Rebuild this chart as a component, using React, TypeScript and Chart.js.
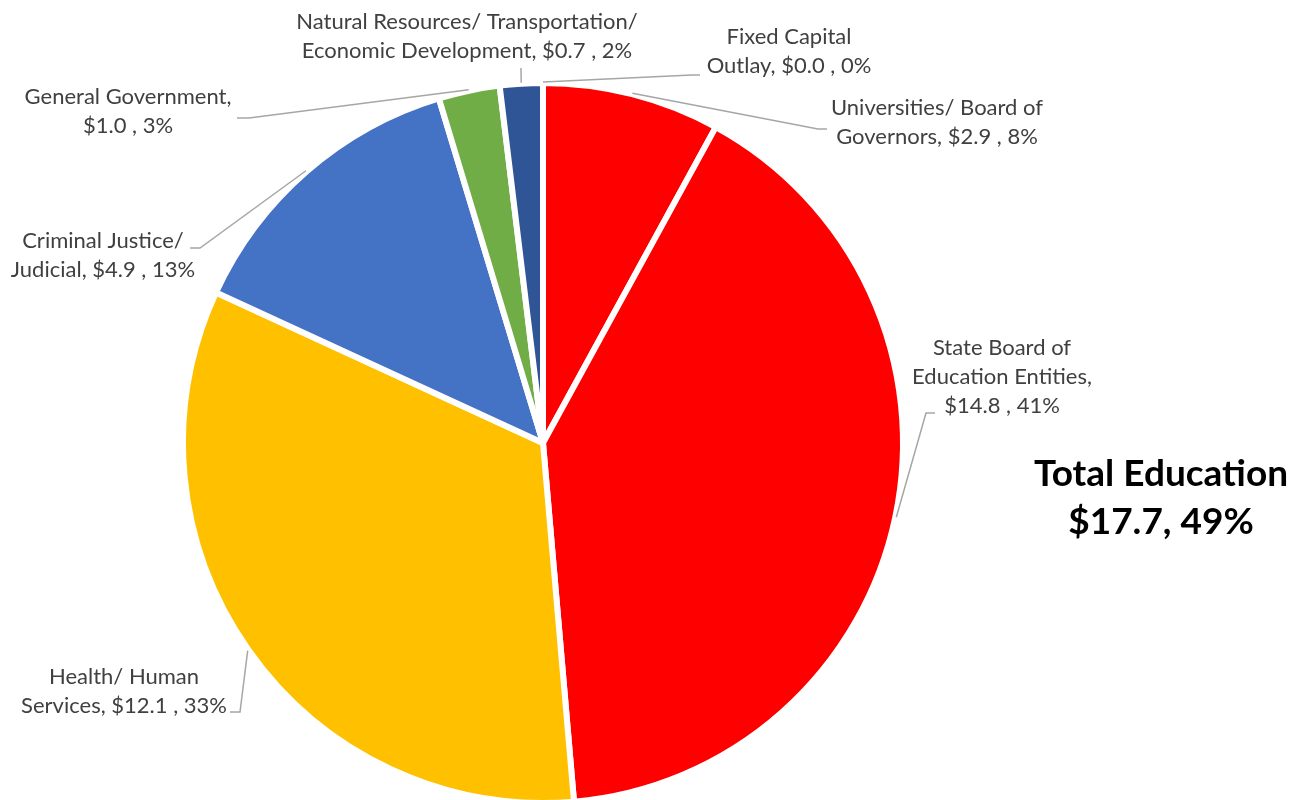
import React, { useEffect, useRef } from "react";
import { Chart, registerables } from "chart.js";

Chart.register(...registerables);

// ---- data ----
const categories = [
  "Fixed Capital\nOutlay",
  "Universities/ Board of\nGovernors",
  "State Board of\nEducation Entities",
  "Health/ Human\nServices",
  "Criminal Justice/\nJudicial",
  "General Government",
  "Natural Resources/ Transportation/\nEconomic Development",
];
const values = [0.0, 2.9, 14.8, 12.1, 4.9, 1.0, 0.7];
const valueOnNewLine = [false, false, true, false, false, true, false];
const educationIdx = [1, 2];
const totalTitle = "Total Education";

// ---- styles / layout ----
const colors = ["#7F7F7F", "#FF0000", "#FF0000", "#FFC000", "#4472C4", "#70AD47", "#2F5597"];
// label centre x, centre y of first line, leader path points (after the arc point)
const labelLayout = [
  { cx: 789, y: 37, path: [[692, 75], [700, 75]] },
  { cx: 937, y: 108, path: [[818, 129], [827, 129]] },
  { cx: 1002, y: 348, path: [[926, 413], [935, 413]] },
  { cx: 124, y: 677, path: [[240, 712], [230, 712]] },
  { cx: 103, y: 241, path: [[200, 248], [190, 248]] },
  { cx: 128, y: 97, path: [[249, 118], [237, 118]] },
  { cx: 467, y: 22, path: [[521, 68]] },
];
const FONT = "Lato, 'Noto Sans', sans-serif";
const CANVAS_H = 812;

const total = values.reduce((a, b) => a + b, 0);
const pct = (v: number) => Math.round((v / total) * 100);
const labelText = (i: number) =>
  `${categories[i]},${valueOnNewLine[i] ? "\n" : " "}$${values[i].toFixed(1)} , ${pct(values[i])}%`;

const labelPlugin = {
  id: "sliceLabels",
  afterDatasetsDraw(chart: any) {
    const ctx = chart.ctx as CanvasRenderingContext2D;
    const meta = chart.getDatasetMeta(0);
    ctx.save();
    meta.data.forEach((arc: any, i: number) => {
      const p = arc.getProps(["x", "y", "startAngle", "endAngle", "outerRadius"], true);
      const mid = (p.startAngle + p.endAngle) / 2;
      const r = p.outerRadius + 1;
      const sx = p.x + Math.cos(mid) * r;
      const sy = p.y + Math.sin(mid) * r;
      const L = labelLayout[i];
      ctx.strokeStyle = "#A6A6A6";
      ctx.lineWidth = 1.5;
      ctx.beginPath();
      ctx.moveTo(sx, sy);
      L.path.forEach((q) => ctx.lineTo(q[0], q[1]));
      ctx.stroke();
      ctx.fillStyle = "#404040";
      ctx.font = `22px ${FONT}`;
      ctx.textAlign = "center";
      ctx.textBaseline = "middle";
      labelText(i)
        .split("\n")
        .forEach((line, k) => ctx.fillText(line, L.cx, L.y + k * 29));
    });
    // Total Education annotation
    const eduTotal = educationIdx.reduce((a, i) => a + values[i], 0);
    ctx.fillStyle = "#000000";
    ctx.font = `bold 37px ${FONT}`;
    ctx.textAlign = "center";
    ctx.textBaseline = "middle";
    ctx.fillText(totalTitle, 1161, 474);
    ctx.fillText(`$${eduTotal.toFixed(1)}, ${pct(eduTotal)}%`, 1161, 522);
    ctx.restore();
  },
};

export default function App() {
  const ref = useRef<HTMLCanvasElement>(null);
  useEffect(() => {
    document.body.style.margin = "0";
    const chart = new Chart(ref.current!, {
      type: "pie",
      data: {
        labels: categories,
        datasets: [
          {
            data: values,
            backgroundColor: colors,
            borderColor: "#FFFFFF",
            borderWidth: 6,
          },
        ],
      },
      options: {
        responsive: false,
        animation: false,
        layout: { padding: { left: 180, right: 386, top: 80, bottom: CANVAS_H - 806 } },
        plugins: { legend: { display: false }, tooltip: { enabled: false } },
      },
      plugins: [labelPlugin],
    });
    return () => chart.destroy();
  }, []);
  return (
    <div style={{ position: "absolute", left: 0, top: 0, width: 1292, height: 800, overflow: "hidden", background: "#fff" }}>
      <canvas ref={ref} width={1292} height={CANVAS_H} style={{ width: 1292, height: CANVAS_H, display: "block" }} />
    </div>
  );
}
